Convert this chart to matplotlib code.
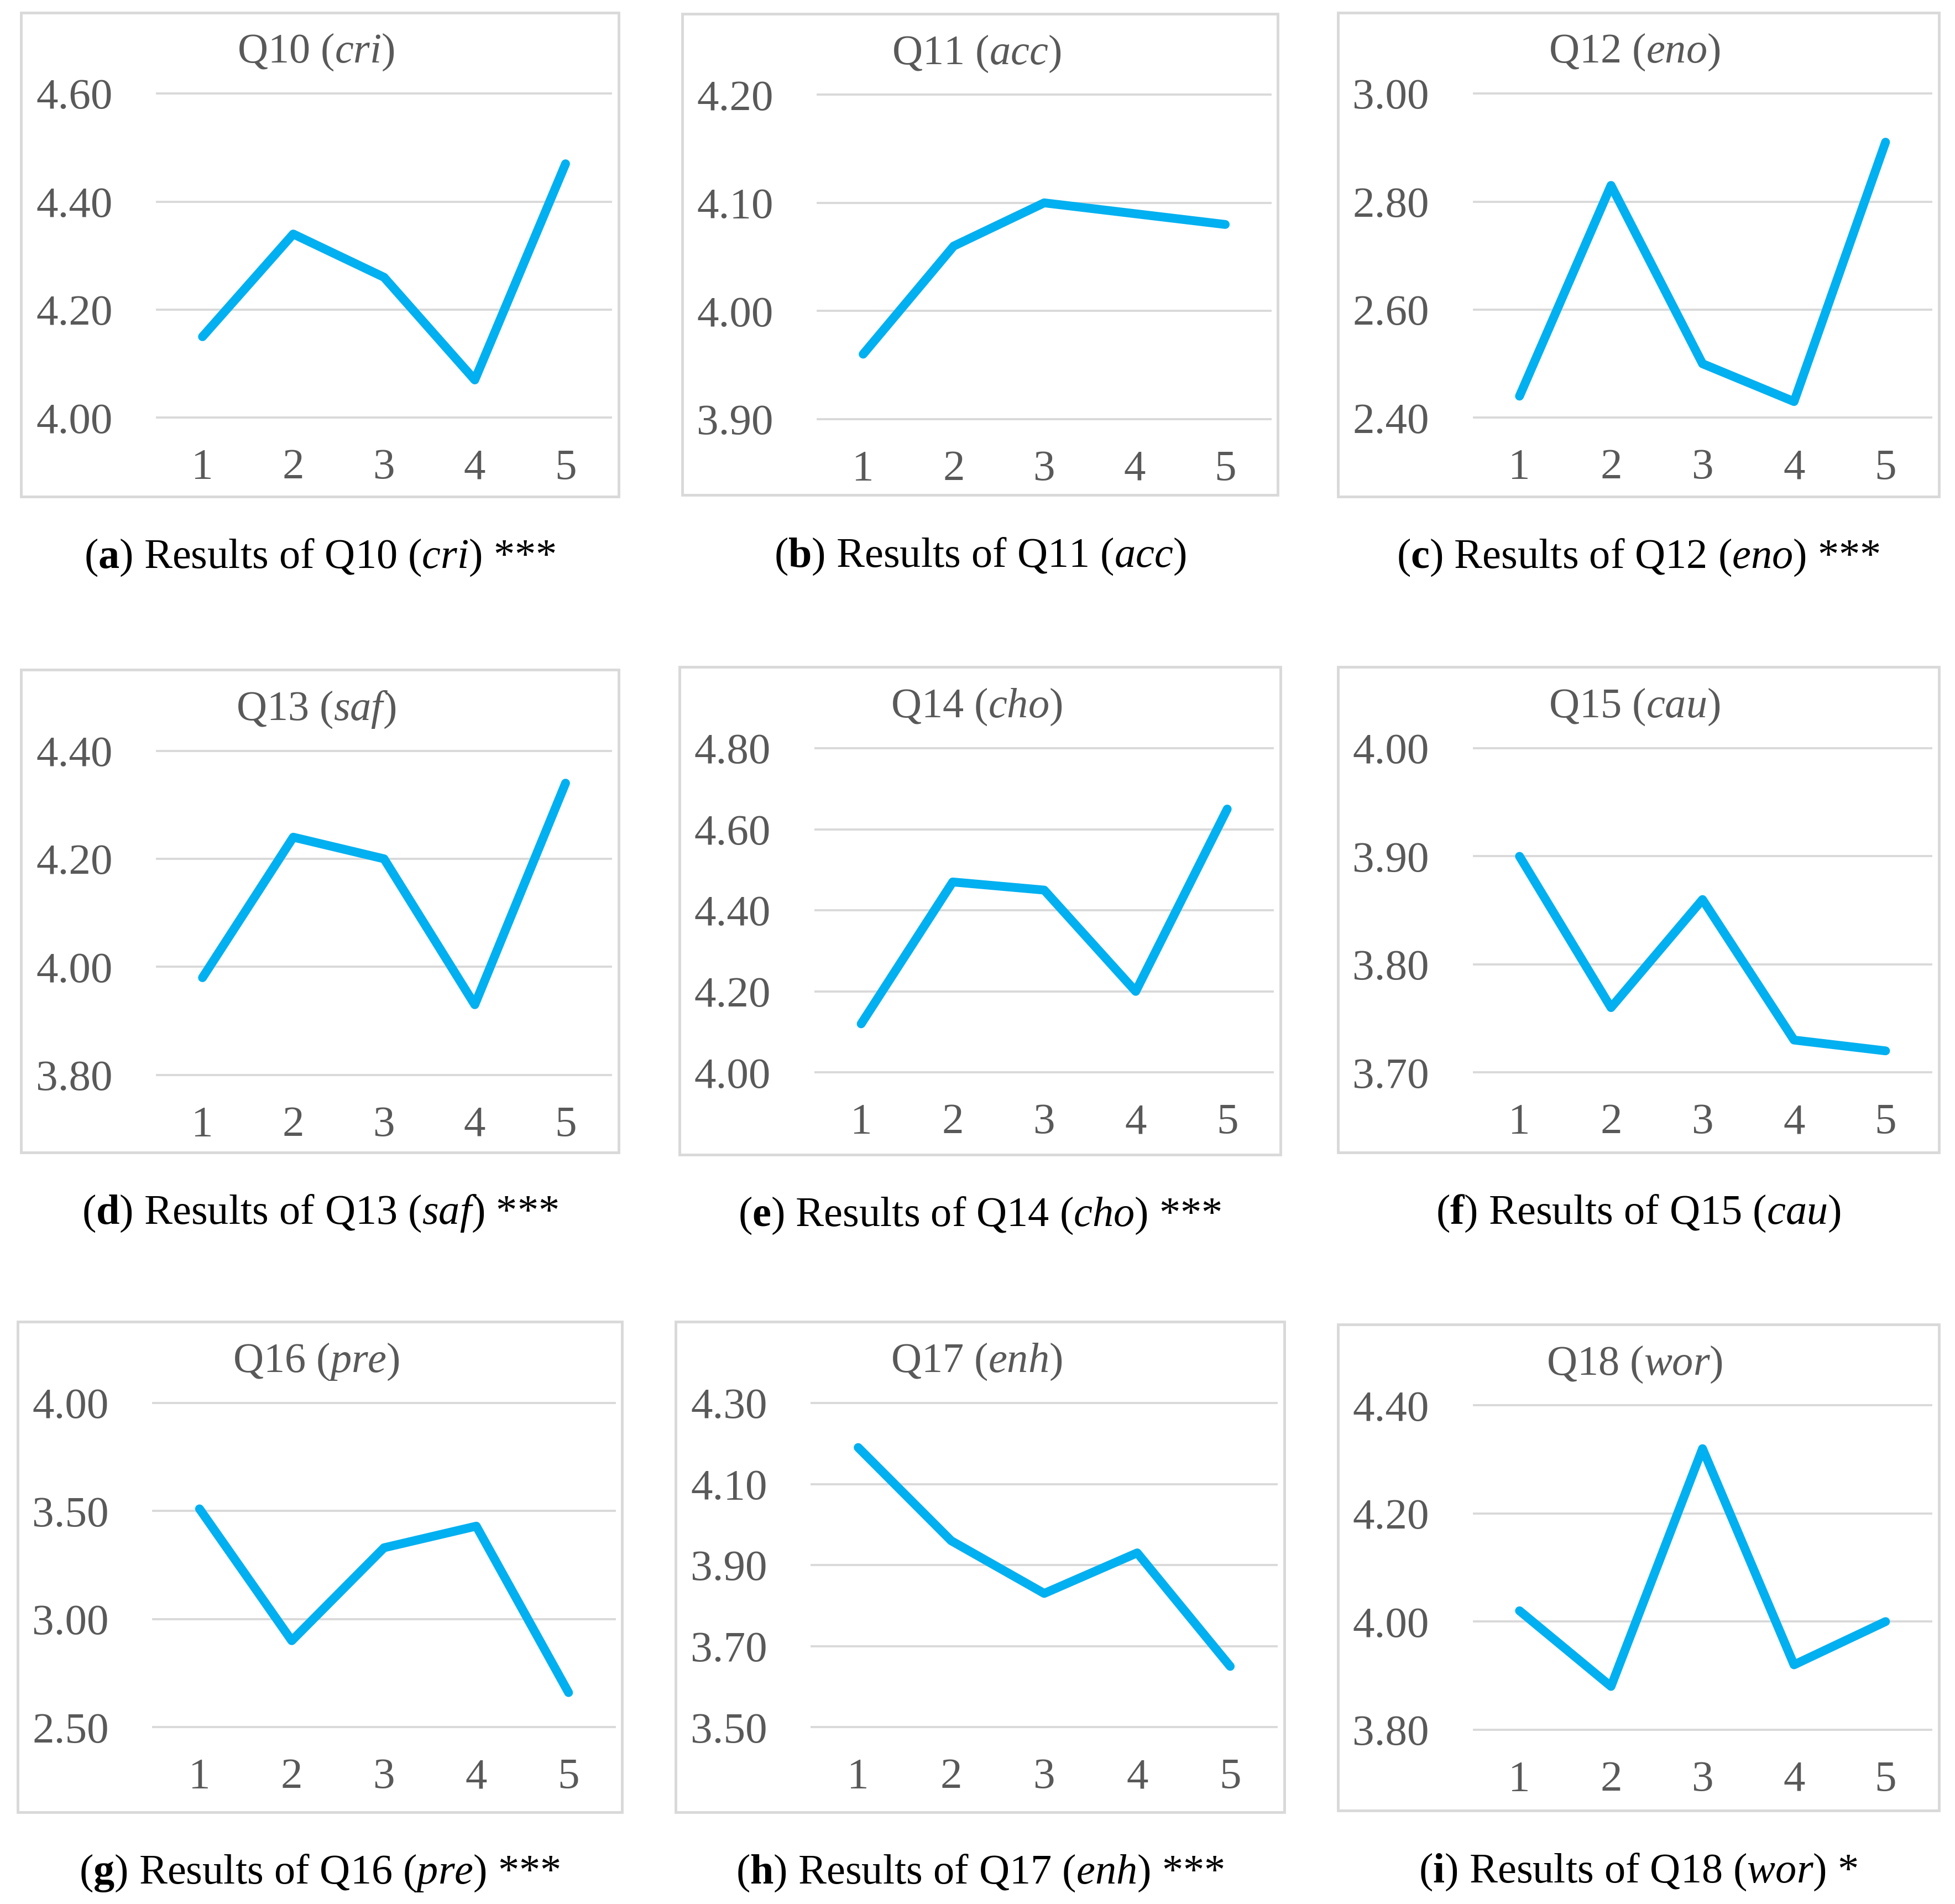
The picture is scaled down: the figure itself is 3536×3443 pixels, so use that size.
import matplotlib
matplotlib.use("Agg")
import matplotlib.pyplot as plt
from matplotlib.patches import Rectangle

plt.rcParams["font.family"] = ["Liberation Serif", "DejaVu Serif"]
plt.rcParams["mathtext.fontset"] = "custom"
plt.rcParams["mathtext.rm"] = "Liberation Serif"
plt.rcParams["mathtext.it"] = "Liberation Serif:italic"
plt.rcParams["mathtext.bf"] = "Liberation Serif:bold"

# data
categories = [1, 2, 3, 4, 5]
questions = ["Q10", "Q11", "Q12", "Q13", "Q14", "Q15", "Q16", "Q17", "Q18"]
abbrs = ["cri", "acc", "eno", "saf", "cho", "cau", "pre", "enh", "wor"]
letters = ["a", "b", "c", "d", "e", "f", "g", "h", "i"]
stars = ["***", "", "***", "***", "***", "", "***", "***", "*"]

q10 = [4.15, 4.34, 4.26, 4.07, 4.47]
q11 = [3.96, 4.06, 4.10, 4.09, 4.08]
q12 = [2.44, 2.83, 2.50, 2.43, 2.91]
q13 = [3.98, 4.24, 4.20, 3.93, 4.34]
q14 = [4.12, 4.47, 4.45, 4.20, 4.65]
q15 = [3.90, 3.76, 3.86, 3.73, 3.72]
q16 = [3.51, 2.90, 3.33, 3.43, 2.66]
q17 = [4.19, 3.96, 3.83, 3.93, 3.65]
q18 = [4.02, 3.88, 4.32, 3.92, 4.00]
series = [q10, q11, q12, q13, q14, q15, q16, q17, q18]

yticks_a = [4.00, 4.20, 4.40, 4.60]
yticks_b = [3.90, 4.00, 4.10, 4.20]
yticks_c = [2.40, 2.60, 2.80, 3.00]
yticks_d = [3.80, 4.00, 4.20, 4.40]
yticks_e = [4.00, 4.20, 4.40, 4.60, 4.80]
yticks_f = [3.70, 3.80, 3.90, 4.00]
yticks_g = [2.50, 3.00, 3.50, 4.00]
yticks_h = [3.50, 3.70, 3.90, 4.10, 4.30]
yticks_i = [3.80, 4.00, 4.20, 4.40]
yticks = [yticks_a, yticks_b, yticks_c, yticks_d, yticks_e,
          yticks_f, yticks_g, yticks_h, yticks_i]

# panel frames (left, top, right, bottom) in a 1568-wide reference grid
boxes = [(17, 10, 496, 398), (547, 11, 1025, 397), (1073, 10, 1555, 398),
         (17, 537, 496, 924), (545, 535, 1027, 926), (1073, 535, 1555, 924),
         (14, 1060, 499, 1453), (542, 1060, 1030, 1453), (1073, 1062, 1555, 1452)]

W, H = 1568.0, 1526.8
fig = plt.figure(figsize=(35.36, 34.43), dpi=100)

def fx(x):
    return x / W

def fy(y):
    return 1 - y / H

grey = "#595959"
for k in range(9):
    l, t, r, b = boxes[k]
    fig.patches.append(Rectangle((fx(l), fy(b)), fx(r) - fx(l), fy(t) - fy(b),
                                 transform=fig.transFigure, facecolor="white",
                                 edgecolor="#D9D9D9", lw=3.5, zorder=-5))
    pl, pr, pt, pb = l + 109, r - 6, t + 65, t + 325
    ax = fig.add_axes([fx(pl), fy(pb), fx(pr) - fx(pl), fy(pt) - fy(pb)])
    ax.set_zorder(2)
    ax.plot(categories, series[k], color="#00B0F0", lw=11.5,
            solid_capstyle="round", solid_joinstyle="round", clip_on=False, zorder=3)
    ax.set_xlim(0.5, 5.5)
    ax.set_ylim(yticks[k][0], yticks[k][-1])
    ax.set_xticks(categories)
    ax.set_yticks(yticks[k])
    ax.set_yticklabels([f"{v:.2f}" for v in yticks[k]])
    ax.tick_params(axis="y", length=0, pad=58, labelsize=57, labelcolor=grey)
    ax.tick_params(axis="x", length=0, pad=40, labelsize=57, labelcolor=grey)
    for s in ax.spines.values():
        s.set_visible(False)
    ax.set_facecolor("none")
    ax.grid(axis="y", color="#D9D9D9", lw=2.8)
    ax.set_axisbelow(True)
    for gl in ax.get_ygridlines():
        gl.set_clip_on(False)

    fig.text(fx((l + r) / 2 - 3), fy(t + 32), f"{questions[k]} ($\\mathit{{{abbrs[k]}}}$)",
             ha="center", va="center", fontsize=55, color=grey)
    cap = f"($\\mathbf{{{letters[k]}}}$) Results of {questions[k]} ($\\mathit{{{abbrs[k]}}}$)"
    if stars[k]:
        cap += " " + stars[k]
    fig.text(fx((l + r) / 2), fy(b + 49), cap, ha="center", va="center",
             fontsize=55, color="black")

fig.savefig("out.png", dpi=100, facecolor="white")
